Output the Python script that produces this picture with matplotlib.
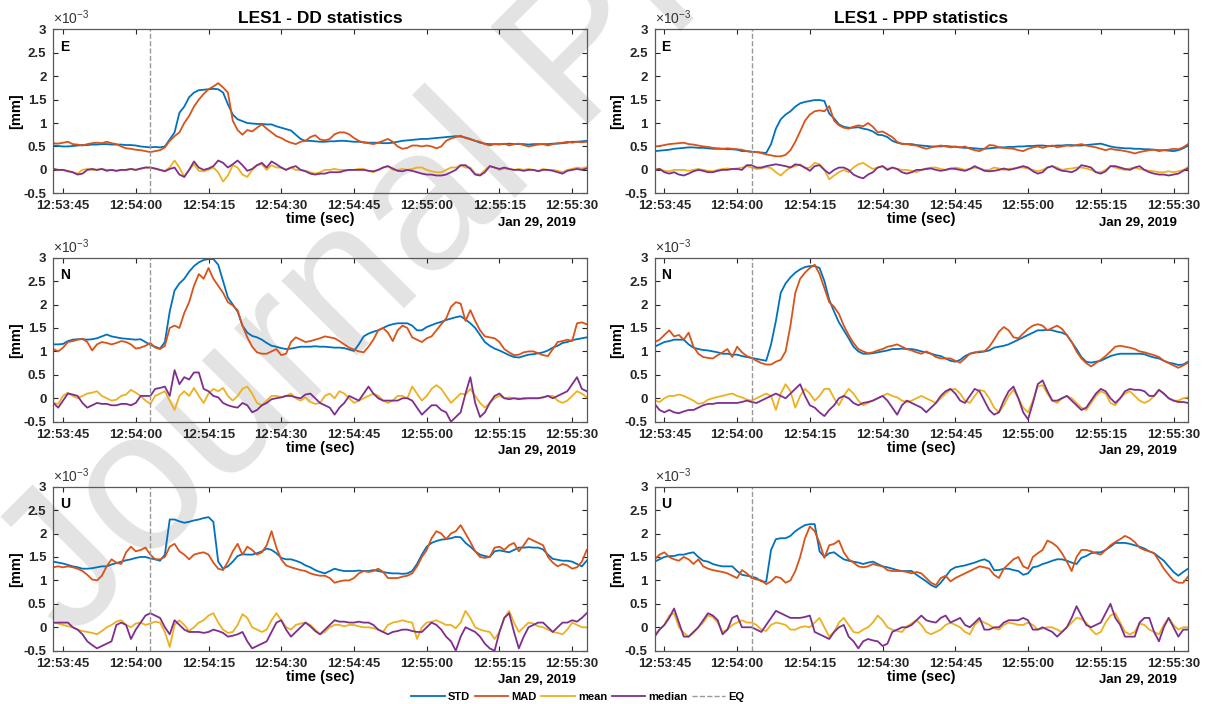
import datetime as dt
import numpy as np
import matplotlib
matplotlib.use("Agg")
import matplotlib.pyplot as plt
import matplotlib.dates as mdates

plt.rcParams['font.family'] = ['Liberation Sans', 'DejaVu Sans']
plt.rcParams['font.weight'] = 'bold'
plt.rcParams['axes.unicode_minus'] = False
plt.rcParams['mathtext.default'] = 'regular'

# one sample per second, 12:53:43 .. 12:55:33 (values in units of 1e-3 mm)
t_start = dt.datetime(2019, 1, 29, 12, 53, 43)
t_eq = dt.datetime(2019, 1, 29, 12, 54, 3)
n_sec = 111

# ---------------- DD, East ----------------
dd_e_std = [0.52, 0.51, 0.50, 0.50, 0.51, 0.52, 0.53, 0.53, 0.54, 0.54,
            0.55, 0.55, 0.54, 0.54, 0.54, 0.53, 0.53, 0.52, 0.50, 0.49,
            0.48, 0.49, 0.48, 0.50, 0.65, 0.80, 1.22, 1.35, 1.55, 1.65,
            1.70, 1.71, 1.72, 1.73, 1.72, 1.65, 1.40, 1.18, 1.08, 1.04,
            1.00, 0.99, 0.98, 0.98, 0.97, 0.97, 0.93, 0.90, 0.87, 0.84,
            0.75, 0.66, 0.62, 0.62, 0.61, 0.60, 0.60, 0.61, 0.61, 0.62,
            0.62, 0.61, 0.60, 0.60, 0.59, 0.58, 0.58, 0.58, 0.57, 0.57,
            0.58, 0.60, 0.62, 0.63, 0.64, 0.65, 0.66, 0.66, 0.67, 0.68,
            0.69, 0.70, 0.71, 0.72, 0.71, 0.69, 0.66, 0.62, 0.58, 0.56,
            0.55, 0.55, 0.55, 0.55, 0.56, 0.55, 0.55, 0.55, 0.54, 0.55,
            0.55, 0.55, 0.55, 0.56, 0.56, 0.57, 0.58, 0.60, 0.60, 0.61,
            0.62]
dd_e_mad = [0.57, 0.56, 0.58, 0.60, 0.55, 0.54, 0.52, 0.55, 0.57, 0.58,
            0.57, 0.60, 0.57, 0.55, 0.50, 0.46, 0.45, 0.43, 0.42, 0.40,
            0.38, 0.40, 0.42, 0.48, 0.62, 0.72, 0.80, 1.00, 1.15, 1.35,
            1.50, 1.62, 1.72, 1.78, 1.85, 1.76, 1.65, 1.05, 0.85, 0.75,
            0.85, 0.82, 0.90, 0.97, 0.88, 0.80, 0.72, 0.68, 0.62, 0.58,
            0.55, 0.60, 0.62, 0.70, 0.74, 0.65, 0.63, 0.66, 0.76, 0.80,
            0.80, 0.76, 0.68, 0.62, 0.58, 0.57, 0.55, 0.58, 0.62, 0.66,
            0.60, 0.50, 0.45, 0.47, 0.52, 0.52, 0.50, 0.52, 0.50, 0.46,
            0.50, 0.62, 0.67, 0.70, 0.73, 0.68, 0.65, 0.62, 0.60, 0.55,
            0.52, 0.55, 0.54, 0.56, 0.52, 0.55, 0.56, 0.53, 0.50, 0.52,
            0.54, 0.55, 0.52, 0.55, 0.57, 0.58, 0.60, 0.58, 0.60, 0.59,
            0.60]
dd_e_mean = [0.02, 0.00, 0.00, -0.02, -0.05, -0.08, 0.00, 0.02, 0.00, 0.00,
             0.02, 0.00, 0.00, -0.02, 0.00, 0.00, 0.02, 0.00, 0.02, 0.05,
             0.05, 0.02, 0.00, -0.02, 0.05, 0.20, 0.05, -0.15, 0.00, 0.12,
             -0.02, -0.03, 0.00, 0.05, -0.05, -0.25, -0.12, 0.10, 0.05, -0.10,
             -0.15, 0.00, 0.10, 0.12, 0.00, 0.10, 0.05, 0.05, 0.00, 0.05,
             0.00, 0.00, -0.02, -0.05, -0.08, -0.05, 0.00, 0.00, 0.02, 0.00,
             0.00, 0.00, 0.00, 0.02, 0.02, -0.02, -0.05, 0.00, 0.05, 0.08,
             0.00, 0.00, 0.02, 0.00, 0.02, 0.05, 0.05, 0.00, -0.03, -0.05,
             -0.05, 0.00, 0.05, 0.05, 0.10, 0.05, 0.05, -0.08, -0.10, 0.00,
             0.08, 0.05, 0.00, 0.03, 0.02, 0.00, 0.02, 0.00, 0.02, 0.00,
             -0.02, 0.02, 0.00, 0.00, -0.02, -0.05, 0.00, 0.02, 0.05, 0.03,
             0.06]
dd_e_med = [0.02, 0.00, 0.00, -0.03, -0.05, -0.10, -0.08, 0.00, 0.02, 0.00,
            0.02, -0.02, 0.00, -0.02, 0.00, 0.00, 0.02, 0.00, 0.03, 0.05,
            0.05, 0.03, 0.00, -0.03, 0.02, 0.05, -0.10, -0.15, 0.00, 0.18,
            0.05, 0.00, 0.03, 0.08, 0.20, 0.15, 0.05, 0.12, 0.20, 0.10,
            -0.02, 0.02, 0.10, 0.15, 0.05, 0.18, 0.12, 0.05, 0.00, 0.05,
            0.08, 0.00, -0.03, -0.08, -0.10, -0.08, -0.08, -0.05, -0.05, -0.05,
            -0.02, 0.00, 0.00, 0.00, 0.00, -0.02, -0.03, 0.00, 0.05, 0.08,
            0.03, -0.02, -0.03, 0.00, -0.02, -0.05, -0.08, -0.10, -0.10, -0.12,
            -0.12, -0.10, -0.05, 0.00, 0.10, 0.10, 0.02, -0.10, -0.12, -0.05,
            0.08, 0.05, 0.02, 0.05, 0.02, 0.00, 0.00, -0.02, 0.00, 0.00,
            -0.03, 0.00, 0.00, -0.02, -0.05, -0.08, -0.02, 0.00, 0.02, 0.00,
            0.03]

# ---------------- PPP, East ----------------
ppp_e_std = [0.40, 0.41, 0.42, 0.43, 0.45, 0.46, 0.47, 0.48, 0.48, 0.47,
             0.47, 0.46, 0.45, 0.45, 0.45, 0.44, 0.44, 0.43, 0.40, 0.40,
             0.39, 0.38, 0.37, 0.36, 0.55, 0.88, 1.08, 1.18, 1.25, 1.35,
             1.42, 1.45, 1.47, 1.49, 1.49, 1.47, 1.20, 1.10, 0.97, 0.92,
             0.90, 0.90, 0.91, 0.88, 0.86, 0.82, 0.75, 0.74, 0.70, 0.62,
             0.58, 0.56, 0.55, 0.55, 0.53, 0.52, 0.51, 0.50, 0.50, 0.50,
             0.51, 0.50, 0.49, 0.48, 0.47, 0.47, 0.46, 0.45, 0.45, 0.46,
             0.47, 0.48, 0.48, 0.49, 0.49, 0.50, 0.50, 0.51, 0.51, 0.52,
             0.52, 0.51, 0.51, 0.52, 0.52, 0.53, 0.53, 0.52, 0.52, 0.53,
             0.54, 0.55, 0.56, 0.53, 0.50, 0.48, 0.47, 0.46, 0.46, 0.45,
             0.45, 0.44, 0.44, 0.43, 0.42, 0.42, 0.41, 0.40, 0.42, 0.46,
             0.52]
ppp_e_mad = [0.50, 0.51, 0.53, 0.55, 0.56, 0.57, 0.58, 0.55, 0.54, 0.52,
             0.50, 0.49, 0.47, 0.46, 0.45, 0.46, 0.45, 0.44, 0.43, 0.40,
             0.38, 0.38, 0.36, 0.33, 0.31, 0.29, 0.29, 0.32, 0.42, 0.60,
             0.82, 1.05, 1.18, 1.25, 1.27, 1.25, 1.36, 1.05, 0.95, 0.90,
             0.88, 0.92, 0.95, 0.93, 1.00, 0.92, 0.80, 0.82, 0.76, 0.70,
             0.60, 0.55, 0.55, 0.53, 0.52, 0.48, 0.45, 0.48, 0.50, 0.52,
             0.50, 0.48, 0.50, 0.48, 0.50, 0.45, 0.42, 0.40, 0.45, 0.53,
             0.52, 0.48, 0.47, 0.46, 0.45, 0.42, 0.40, 0.45, 0.48, 0.50,
             0.47, 0.50, 0.52, 0.48, 0.50, 0.52, 0.51, 0.53, 0.55, 0.52,
             0.50, 0.48, 0.45, 0.42, 0.45, 0.43, 0.42, 0.40, 0.38, 0.35,
             0.38, 0.40, 0.42, 0.43, 0.40, 0.42, 0.43, 0.45, 0.44, 0.48,
             0.55]
ppp_e_mean = [0.00, 0.02, -0.02, -0.03, 0.00, 0.00, 0.00, -0.02, 0.00, 0.02,
              0.00, -0.02, -0.03, 0.00, 0.02, 0.03, 0.02, 0.03, 0.05, 0.08,
              0.05, 0.02, 0.03, 0.06, 0.04, -0.05, -0.12, -0.02, 0.05, 0.08,
              0.12, 0.03, 0.05, 0.15, 0.12, 0.00, -0.20, -0.12, -0.05, 0.00,
              -0.05, 0.05, 0.12, 0.15, 0.08, 0.02, 0.05, 0.08, 0.02, 0.05,
              0.02, 0.00, 0.00, -0.02, -0.05, 0.00, 0.03, 0.05, 0.05, 0.02,
              0.00, 0.02, 0.05, 0.03, 0.00, 0.02, 0.05, 0.03, 0.00, 0.00,
              0.05, 0.03, 0.00, 0.02, 0.03, 0.05, 0.05, 0.03, 0.00, -0.03,
              0.00, 0.05, 0.08, 0.05, 0.00, 0.02, 0.03, 0.05, 0.05, 0.03,
              0.00, -0.05, -0.05, 0.00, 0.08, 0.05, 0.02, 0.00, 0.03, 0.05,
              0.02, 0.00, -0.02, -0.03, -0.05, -0.05, -0.03, -0.05, -0.03, 0.00,
              0.06]
ppp_e_med = [0.00, 0.02, -0.05, -0.08, -0.05, -0.10, -0.12, -0.08, -0.03, 0.00,
             -0.02, -0.05, -0.05, -0.02, 0.00, 0.00, 0.02, 0.02, 0.00, 0.10,
             0.10, 0.05, 0.05, 0.08, 0.10, 0.12, 0.10, 0.08, 0.05, 0.12,
             0.10, 0.05, -0.02, 0.08, 0.10, 0.00, -0.08, 0.00, 0.05, 0.05,
             0.00, -0.10, -0.15, -0.18, -0.10, -0.05, 0.05, 0.08, 0.00, 0.05,
             0.02, -0.05, -0.08, -0.05, 0.00, 0.00, 0.02, 0.03, 0.00, -0.02,
             0.00, 0.03, 0.02, 0.00, -0.02, 0.02, 0.08, 0.03, -0.02, -0.03,
             -0.02, 0.00, 0.03, 0.00, 0.02, 0.05, 0.08, 0.05, -0.03, -0.08,
             -0.05, 0.05, 0.08, 0.02, -0.02, -0.03, -0.05, 0.00, 0.10, 0.08,
             0.05, -0.05, -0.08, -0.03, 0.08, 0.08, 0.05, 0.02, 0.00, 0.05,
             0.08, 0.00, -0.05, -0.08, -0.10, -0.10, -0.12, -0.10, -0.08, -0.02,
             0.03]

# ---------------- DD, North ----------------
dd_n_std = [1.15, 1.15, 1.16, 1.22, 1.25, 1.26, 1.26, 1.25, 1.26, 1.28,
            1.32, 1.36, 1.32, 1.30, 1.28, 1.27, 1.26, 1.25, 1.26, 1.20,
            1.14, 1.10, 1.06, 1.20, 1.85, 2.30, 2.45, 2.55, 2.70, 2.82,
            2.90, 2.95, 2.97, 2.97, 2.85, 2.50, 2.15, 2.00, 1.85, 1.55,
            1.40, 1.33, 1.30, 1.25, 1.18, 1.12, 1.10, 1.07, 1.05, 1.06,
            1.08, 1.10, 1.10, 1.10, 1.11, 1.10, 1.10, 1.09, 1.08, 1.08,
            1.07, 1.04, 1.01, 1.15, 1.32, 1.38, 1.42, 1.45, 1.50, 1.55,
            1.58, 1.60, 1.60, 1.60, 1.55, 1.45, 1.45, 1.52, 1.56, 1.60,
            1.63, 1.67, 1.70, 1.73, 1.75, 1.68, 1.60, 1.50, 1.35, 1.20,
            1.12, 1.06, 1.02, 0.97, 0.92, 0.88, 0.87, 0.90, 0.93, 0.94,
            0.96, 0.98, 1.02, 1.08, 1.12, 1.18, 1.20, 1.24, 1.26, 1.28,
            1.30]
dd_n_mad = [1.05, 1.00, 1.08, 1.20, 1.22, 1.25, 1.27, 1.20, 1.02, 1.15,
            1.20, 1.18, 1.15, 1.18, 1.22, 1.20, 1.15, 1.06, 1.08, 1.12,
            1.18, 1.08, 1.05, 1.12, 1.50, 1.55, 1.50, 1.82, 2.05, 2.40,
            2.65, 2.55, 2.78, 2.55, 2.40, 2.25, 2.05, 1.98, 1.88, 1.55,
            1.30, 1.10, 0.98, 0.95, 0.95, 1.00, 1.05, 0.92, 0.95, 1.20,
            1.30, 1.25, 1.20, 1.22, 1.25, 1.28, 1.32, 1.30, 1.28, 1.22,
            1.15, 1.08, 1.04, 1.00, 0.98, 1.10, 1.25, 1.45, 1.50, 1.40,
            1.22, 1.45, 1.55, 1.50, 1.30, 1.25, 1.20, 1.28, 1.32, 1.45,
            1.58, 1.70, 1.95, 2.05, 2.02, 1.65, 1.88, 1.65, 1.45, 1.32,
            1.30, 1.28, 1.20, 1.05, 0.98, 0.92, 0.93, 0.98, 1.00, 1.00,
            0.96, 0.92, 0.90, 1.05, 1.20, 1.22, 1.25, 1.22, 1.60, 1.62,
            1.58]
dd_n_mean = [-0.10, -0.12, 0.05, 0.12, 0.05, 0.00, 0.05, 0.10, 0.12, 0.15,
             0.05, 0.00, -0.05, -0.03, 0.05, 0.08, 0.18, 0.12, 0.05, -0.05,
             -0.12, 0.05, 0.10, 0.15, -0.05, -0.25, 0.05, 0.15, 0.05, 0.22,
             0.05, -0.10, 0.10, 0.20, 0.15, 0.22, 0.05, -0.05, 0.05, 0.20,
             0.25, 0.10, -0.10, -0.15, -0.05, 0.05, 0.05, 0.02, 0.05, 0.10,
             0.00, -0.05, 0.02, -0.08, -0.12, -0.10, 0.05, 0.10, 0.00, 0.15,
             0.10, 0.00, -0.10, -0.05, 0.00, 0.05, 0.10, 0.05, -0.05, -0.10,
             -0.05, 0.05, 0.05, 0.00, 0.25, 0.10, -0.05, 0.05, 0.20, 0.28,
             0.20, 0.05, -0.10, 0.00, 0.10, 0.08, 0.20, 0.05, -0.10, -0.20,
             -0.10, 0.00, 0.05, 0.00, 0.02, 0.00, 0.00, -0.02, 0.00, 0.00,
             0.00, 0.02, 0.05, 0.05, -0.05, -0.10, -0.05, 0.05, 0.15, 0.10,
             0.02]
dd_n_med = [-0.10, -0.20, -0.05, 0.10, 0.08, 0.05, -0.10, -0.20, -0.15, -0.10,
            -0.12, -0.12, -0.15, -0.15, -0.12, -0.12, -0.15, -0.10, 0.05, 0.05,
            0.05, 0.20, 0.22, 0.25, 0.05, 0.60, 0.30, 0.45, 0.40, 0.55,
            0.55, 0.20, 0.15, 0.05, 0.02, -0.10, -0.15, -0.18, -0.20, -0.10,
            -0.15, -0.30, -0.25, -0.15, -0.10, -0.02, 0.00, 0.02, 0.05, 0.05,
            0.02, 0.00, 0.08, 0.10, 0.00, -0.10, -0.15, -0.20, -0.35, -0.20,
            -0.10, 0.05, 0.00, -0.05, 0.10, 0.25, 0.10, 0.00, -0.05, -0.05,
            -0.05, -0.05, 0.00, 0.00, -0.05, -0.20, -0.35, -0.25, -0.15, -0.15,
            -0.25, -0.30, -0.50, -0.40, -0.30, 0.10, 0.45, -0.10, -0.40, -0.30,
            -0.10, 0.05, 0.10, 0.00, -0.02, 0.00, -0.02, 0.00, 0.00, 0.00,
            0.00, 0.02, 0.05, 0.00, 0.05, 0.10, 0.15, 0.30, 0.45, 0.20,
            0.15]

# ---------------- PPP, North ----------------
ppp_n_std = [1.10, 1.15, 1.20, 1.22, 1.25, 1.25, 1.25, 1.15, 1.08, 1.05,
             1.03, 1.02, 1.00, 0.98, 0.95, 0.95, 0.93, 0.93, 0.90, 0.88,
             0.86, 0.84, 0.82, 0.80, 1.15, 1.65, 2.25, 2.45, 2.58, 2.68,
             2.75, 2.80, 2.82, 2.82, 2.78, 2.50, 2.10, 1.85, 1.62, 1.45,
             1.28, 1.10, 1.00, 0.95, 0.95, 0.96, 0.98, 1.00, 1.02, 1.05,
             1.05, 1.06, 1.05, 1.05, 1.03, 1.00, 0.98, 0.95, 0.92, 0.90,
             0.85, 0.80, 0.78, 0.82, 0.90, 0.95, 0.98, 0.98, 1.00, 1.02,
             1.08, 1.10, 1.12, 1.15, 1.20, 1.25, 1.30, 1.35, 1.40, 1.45,
             1.45, 1.46, 1.45, 1.42, 1.40, 1.35, 1.20, 1.05, 0.88, 0.78,
             0.76, 0.78, 0.80, 0.85, 0.90, 0.93, 0.95, 0.95, 0.95, 0.95,
             0.95, 0.94, 0.90, 0.87, 0.85, 0.80, 0.76, 0.74, 0.71, 0.72,
             0.78]
ppp_n_mad = [1.20, 1.25, 1.35, 1.45, 1.32, 1.35, 1.25, 1.40, 1.10, 0.95,
             0.88, 0.86, 0.85, 0.92, 0.98, 1.05, 0.88, 1.10, 0.98, 0.90,
             0.86, 0.80, 0.75, 0.72, 0.72, 0.78, 0.82, 1.00, 1.55, 2.25,
             2.55, 2.68, 2.78, 2.85, 2.65, 2.35, 2.05, 1.95, 1.80, 1.55,
             1.35, 1.18, 1.05, 1.00, 0.96, 0.98, 1.02, 1.05, 1.10, 1.12,
             1.15, 1.10, 1.05, 1.02, 0.98, 0.95, 1.00, 0.95, 0.88, 0.85,
             0.85, 0.85, 0.80, 0.76, 0.85, 0.95, 0.97, 1.00, 1.00, 1.10,
             1.25, 1.42, 1.52, 1.45, 1.30, 1.28, 1.38, 1.48, 1.55, 1.58,
             1.55, 1.45, 1.50, 1.55, 1.48, 1.35, 1.20, 1.00, 0.85, 0.75,
             0.68, 0.75, 0.82, 0.90, 1.00, 1.10, 1.12, 1.10, 1.08, 1.05,
             1.00, 0.98, 0.95, 0.92, 0.88, 0.80, 0.75, 0.70, 0.65, 0.70,
             0.76]
ppp_n_mean = [-0.05, -0.08, 0.00, 0.05, 0.05, 0.08, 0.05, 0.00, -0.05, -0.12,
              -0.10, -0.03, 0.00, 0.03, 0.05, 0.08, 0.10, 0.05, 0.02, -0.03,
              -0.05, 0.00, 0.05, 0.10, 0.05, -0.25, 0.10, 0.30, 0.15, -0.20,
              0.05, 0.20, 0.10, -0.05, 0.05, 0.20, 0.20, 0.00, -0.15, 0.05,
              0.20, 0.10, -0.05, -0.15, -0.10, -0.05, 0.00, 0.05, 0.10, 0.05,
              0.02, -0.05, -0.08, -0.05, 0.00, 0.05, 0.00, -0.05, -0.10, 0.00,
              0.10, 0.18, 0.20, 0.10, -0.05, -0.10, 0.05, 0.18, 0.15, 0.00,
              -0.20, -0.30, -0.15, 0.05, 0.18, 0.00, -0.20, -0.30, -0.05, 0.25,
              0.28, 0.10, -0.05, -0.10, 0.00, 0.05, 0.00, -0.10, -0.20, -0.25,
              -0.10, 0.05, 0.15, 0.10, -0.10, -0.15, 0.00, 0.10, 0.15, 0.05,
              -0.05, -0.10, -0.05, 0.05, 0.18, 0.10, 0.00, -0.05, -0.05, 0.00,
              0.02]
ppp_n_med = [-0.12, -0.25, -0.30, -0.25, -0.30, -0.32, -0.28, -0.25, -0.25, -0.20,
             -0.15, -0.12, -0.12, -0.10, -0.10, -0.10, -0.10, -0.10, -0.08, -0.05,
             -0.08, -0.10, -0.05, 0.00, 0.05, 0.10, 0.05, 0.00, 0.10, 0.20,
             0.30, 0.05, -0.15, -0.20, -0.30, -0.38, -0.25, -0.15, 0.00, 0.05,
             0.00, -0.10, -0.15, -0.10, -0.08, -0.05, 0.00, 0.05, -0.05, -0.20,
             -0.35, -0.15, -0.05, -0.10, -0.15, -0.20, -0.30, -0.20, -0.10, 0.05,
             0.15, 0.20, 0.10, -0.05, -0.10, 0.05, 0.20, 0.15, -0.05, -0.25,
             -0.35, -0.30, -0.05, 0.15, 0.25, 0.00, -0.30, -0.45, -0.10, 0.30,
             0.38, 0.15, -0.05, -0.05, 0.00, 0.05, -0.05, -0.15, -0.25, -0.20,
             -0.05, 0.10, 0.20, 0.15, 0.00, -0.10, 0.00, 0.15, 0.20, 0.18,
             0.18, 0.15, 0.05, 0.05, 0.18, 0.10, 0.00, -0.05, -0.08, -0.08,
             -0.10]

# ---------------- DD, Up ----------------
dd_u_std = [1.40, 1.38, 1.36, 1.33, 1.30, 1.28, 1.25, 1.25, 1.26, 1.28,
            1.30, 1.30, 1.34, 1.37, 1.40, 1.43, 1.45, 1.48, 1.50, 1.50,
            1.47, 1.45, 1.42, 1.55, 2.30, 2.30, 2.26, 2.23, 2.25, 2.28,
            2.30, 2.33, 2.35, 2.25, 1.40, 1.25, 1.30, 1.40, 1.52, 1.56,
            1.55, 1.55, 1.58, 1.62, 1.68, 1.65, 1.58, 1.48, 1.45, 1.45,
            1.42, 1.38, 1.32, 1.28, 1.22, 1.18, 1.15, 1.20, 1.25, 1.22,
            1.20, 1.20, 1.20, 1.21, 1.20, 1.20, 1.22, 1.20, 1.18, 1.16,
            1.15, 1.15, 1.14, 1.15, 1.20, 1.35, 1.55, 1.72, 1.80, 1.84,
            1.87, 1.88, 1.90, 1.93, 1.92, 1.80, 1.72, 1.62, 1.55, 1.52,
            1.50, 1.62, 1.64, 1.62, 1.60, 1.65, 1.70, 1.70, 1.71, 1.70,
            1.70, 1.66, 1.55, 1.46, 1.44, 1.42, 1.42, 1.40, 1.35, 1.30,
            1.42]
dd_u_mad = [1.28, 1.30, 1.28, 1.30, 1.28, 1.25, 1.20, 1.12, 1.02, 1.00,
            1.10, 1.30, 1.45, 1.38, 1.35, 1.60, 1.72, 1.62, 1.65, 1.70,
            1.55, 1.45, 1.45, 1.50, 1.72, 1.78, 1.62, 1.55, 1.45, 1.55,
            1.58, 1.60, 1.55, 1.38, 1.25, 1.22, 1.40, 1.62, 1.78, 1.55,
            1.72, 1.65, 1.55, 1.60, 1.75, 2.05, 1.70, 1.45, 1.32, 1.28,
            1.25, 1.22, 1.20, 1.15, 1.12, 1.10, 1.10, 1.05, 0.95, 0.98,
            1.00, 1.00, 1.05, 1.15, 1.20, 1.18, 1.20, 1.25, 1.18, 1.05,
            1.05, 1.05, 1.08, 1.10, 1.15, 1.30, 1.50, 1.65, 1.90, 2.05,
            2.00, 1.88, 2.00, 2.05, 2.18, 2.00, 1.82, 1.62, 1.50, 1.48,
            1.50, 1.70, 1.72, 1.65, 1.75, 1.80, 1.62, 1.75, 1.90, 1.85,
            1.80, 1.75, 1.50, 1.38, 1.30, 1.35, 1.32, 1.25, 1.28, 1.40,
            1.65]
dd_u_mean = [0.10, 0.08, 0.05, 0.02, 0.00, -0.05, -0.08, -0.10, -0.12, -0.15,
             -0.08, 0.00, 0.05, 0.12, 0.15, 0.05, 0.00, 0.08, 0.10, 0.05,
             0.08, 0.12, 0.10, -0.10, -0.42, 0.05, 0.15, 0.05, -0.08, 0.00,
             0.10, 0.15, 0.25, 0.30, 0.10, -0.05, -0.12, -0.10, 0.05, 0.28,
             0.20, 0.00, -0.05, -0.10, -0.05, 0.15, 0.30, 0.15, 0.00, -0.05,
             0.05, 0.08, 0.10, 0.05, -0.05, -0.15, -0.10, 0.00, 0.05, 0.05,
             0.02, 0.05, 0.05, 0.02, 0.00, 0.00, -0.02, -0.05, -0.10, 0.05,
             0.10, 0.12, 0.15, 0.12, 0.10, -0.25, 0.00, 0.10, 0.12, 0.15,
             0.10, 0.05, 0.05, -0.02, 0.10, 0.35, 0.20, 0.00, -0.05, -0.08,
             -0.10, -0.25, -0.10, 0.20, 0.35, 0.10, -0.10, 0.00, 0.10, 0.08,
             0.02, 0.00, -0.05, -0.10, -0.12, -0.15, -0.05, 0.10, 0.05, 0.00,
             0.00]
dd_u_med = [0.10, 0.10, 0.10, 0.10, 0.00, -0.05, -0.15, -0.30, -0.38, -0.45,
            -0.40, -0.35, -0.30, 0.05, 0.10, 0.05, -0.25, -0.05, 0.10, 0.25,
            0.30, 0.25, 0.20, 0.00, -0.15, 0.15, 0.05, -0.05, -0.10, -0.10,
            -0.10, -0.12, -0.10, -0.05, -0.08, -0.12, -0.20, -0.18, -0.15, -0.10,
            -0.30, -0.45, -0.40, -0.35, -0.30, -0.10, 0.10, 0.15, -0.05, -0.20,
            -0.10, 0.00, 0.10, 0.02, -0.08, -0.15, -0.05, 0.05, 0.15, 0.12,
            0.12, 0.10, 0.10, 0.12, 0.10, 0.10, 0.05, -0.05, -0.10, -0.15,
            -0.10, -0.08, -0.05, -0.05, -0.08, -0.10, -0.10, 0.00, 0.10, 0.05,
            -0.05, -0.20, -0.30, -0.50, -0.20, 0.00, -0.05, -0.10, -0.20, -0.35,
            -0.45, -0.50, -0.10, 0.20, 0.30, -0.10, -0.45, -0.20, 0.00, 0.05,
            0.10, 0.10, 0.00, -0.10, 0.00, 0.10, 0.10, 0.15, 0.12, 0.20,
            0.30]

# ---------------- PPP, Up ----------------
ppp_u_std = [1.40, 1.45, 1.50, 1.52, 1.52, 1.55, 1.55, 1.58, 1.60, 1.50,
             1.42, 1.40, 1.35, 1.32, 1.30, 1.30, 1.30, 1.20, 1.12, 1.10,
             1.08, 1.05, 0.98, 0.97, 1.65, 1.88, 1.90, 1.90, 1.95, 2.05,
             2.12, 2.18, 2.20, 2.20, 1.62, 1.50, 1.58, 1.60, 1.52, 1.45,
             1.42, 1.40, 1.38, 1.35, 1.38, 1.40, 1.35, 1.30, 1.28, 1.25,
             1.22, 1.20, 1.20, 1.20, 1.12, 1.05, 0.98, 0.90, 0.85, 0.95,
             1.08, 1.22, 1.28, 1.30, 1.32, 1.35, 1.38, 1.42, 1.45, 1.40,
             1.22, 1.22, 1.25, 1.25, 1.22, 1.20, 1.12, 1.15, 1.28, 1.30,
             1.35, 1.38, 1.42, 1.45, 1.45, 1.42, 1.38, 1.35, 1.48, 1.52,
             1.58, 1.60, 1.60, 1.65, 1.72, 1.80, 1.80, 1.80, 1.78, 1.75,
             1.72, 1.68, 1.62, 1.58, 1.50, 1.42, 1.30, 1.18, 1.10, 1.18,
             1.25]
ppp_u_mad = [1.45, 1.55, 1.60, 1.50, 1.45, 1.42, 1.50, 1.45, 1.35, 1.45,
             1.30, 1.25, 1.22, 1.20, 1.18, 1.15, 1.10, 1.05, 1.22, 1.15,
             1.05, 1.02, 1.00, 0.92, 0.98, 1.08, 1.05, 0.95, 1.00, 1.20,
             1.50, 1.90, 2.15, 2.05, 1.80, 1.48, 1.75, 1.78, 1.85, 1.60,
             1.45, 1.38, 1.30, 1.28, 1.30, 1.35, 1.32, 1.30, 1.22, 1.20,
             1.20, 1.20, 1.18, 1.15, 1.18, 1.15, 1.05, 0.95, 0.90, 1.05,
             1.10, 0.98, 1.05, 1.10, 1.15, 1.20, 1.25, 1.30, 1.28, 1.25,
             1.12, 1.05, 1.25, 1.35, 1.45, 1.50, 1.30, 1.25, 1.50, 1.58,
             1.65, 1.85, 1.80, 1.72, 1.58, 1.40, 1.20, 1.50, 1.65, 1.65,
             1.62, 1.58, 1.55, 1.65, 1.75, 1.82, 1.88, 1.95, 1.90, 1.82,
             1.70, 1.65, 1.62, 1.58, 1.42, 1.25, 1.12, 1.00, 0.95, 0.95,
             1.08]
ppp_u_mean = [-0.15, -0.05, 0.05, 0.25, 0.30, 0.00, -0.12, -0.20, -0.12, 0.00,
              0.10, 0.25, 0.22, 0.10, -0.10, -0.05, 0.05, 0.10, 0.15, 0.10,
              0.10, 0.05, -0.05, -0.08, 0.05, 0.10, 0.08, 0.05, -0.05, -0.05,
              0.00, 0.02, 0.00, 0.10, 0.20, 0.00, -0.20, -0.10, 0.10, 0.20,
              0.05, -0.10, -0.12, -0.05, 0.00, 0.10, 0.25, 0.15, 0.00, -0.05,
              -0.08, -0.10, 0.02, 0.08, 0.15, 0.05, -0.10, -0.15, -0.10, -0.05,
              0.05, 0.10, 0.05, 0.00, -0.10, -0.15, 0.05, 0.15, 0.10, 0.05,
              -0.02, -0.05, 0.05, 0.10, 0.08, 0.05, 0.05, 0.10, 0.05, -0.05,
              -0.03, 0.00, 0.00, -0.05, -0.10, 0.00, 0.10, 0.20, 0.18, 0.10,
              -0.05, -0.15, -0.10, 0.10, 0.25, 0.30, 0.10, -0.10, -0.15, -0.10,
              0.08, 0.05, -0.05, -0.10, -0.15, 0.05, 0.20, 0.05, -0.05, 0.00,
              0.00]
ppp_u_med = [-0.20, -0.05, 0.05, 0.20, 0.40, 0.10, -0.20, -0.20, -0.10, 0.00,
             0.15, 0.30, 0.25, 0.15, -0.15, -0.05, 0.20, 0.25, 0.00, 0.00,
             0.00, -0.05, -0.10, 0.05, 0.20, 0.35, 0.30, 0.25, 0.20, 0.20,
             0.20, 0.22, 0.25, -0.10, -0.15, -0.20, -0.25, -0.10, 0.00, 0.05,
             -0.20, -0.30, -0.45, -0.30, -0.25, -0.28, -0.30, -0.40, -0.35, -0.10,
             -0.05, 0.00, 0.00, 0.05, 0.15, 0.25, 0.15, 0.12, 0.10, 0.20,
             0.25, 0.10, 0.15, 0.20, 0.05, 0.00, 0.10, 0.20, -0.05, -0.05,
             0.00, 0.00, 0.10, 0.15, 0.15, 0.15, 0.20, 0.15, -0.05, -0.05,
             0.00, -0.05, -0.10, -0.20, -0.10, 0.00, 0.20, 0.45, 0.25, 0.05,
             0.00, 0.05, 0.10, 0.30, 0.50, 0.20, 0.05, -0.20, -0.20, -0.20,
             0.10, 0.20, 0.20, -0.10, -0.30, 0.00, 0.20, 0.00, -0.20, -0.05,
             -0.05]

times = [t_start + dt.timedelta(seconds=s) for s in range(n_sec)]

panels = [
    # row, col, component, std, mad, mean, median
    (0, 0, 'E', dd_e_std, dd_e_mad, dd_e_mean, dd_e_med),
    (0, 1, 'E', ppp_e_std, ppp_e_mad, ppp_e_mean, ppp_e_med),
    (1, 0, 'N', dd_n_std, dd_n_mad, dd_n_mean, dd_n_med),
    (1, 1, 'N', ppp_n_std, ppp_n_mad, ppp_n_mean, ppp_n_med),
    (2, 0, 'U', dd_u_std, dd_u_mad, dd_u_mean, dd_u_med),
    (2, 1, 'U', ppp_u_std, ppp_u_mad, ppp_u_mean, ppp_u_med),
]
titles = ['LES1 - DD statistics', 'LES1 - PPP statistics']
yticks = [-0.5, 0, 0.5, 1, 1.5, 2, 2.5, 3]

c_std, c_mad, c_mean, c_med = '#0072BD', '#D95319', '#EDB120', '#7E2F8E'

fig = plt.figure(figsize=(12.07, 7.04), dpi=100)
col_x = [0.0442, 0.5424]
col_w = 0.4419
row_y = [0.7254, 0.4010, 0.0757]
row_h = 0.2330

handles = None
for row, col, comp, s_std, s_mad, s_mean, s_med in panels:
    ax = fig.add_axes([col_x[col], row_y[row], col_w, row_h])
    ax.set_facecolor('none')
    l1, = ax.plot(times, s_std, color=c_std, lw=1.3, label='STD')
    l2, = ax.plot(times, s_mad, color=c_mad, lw=1.3, label='MAD')
    l3, = ax.plot(times, s_mean, color=c_mean, lw=1.3, label='mean')
    l4, = ax.plot(times, s_med, color=c_med, lw=1.3, label='median')
    l5 = ax.axvline(t_eq, color='0.6', ls='--', lw=1.0, label='EQ')
    if handles is None:
        handles = [l1, l2, l3, l4, l5]

    ax.set_xlim(times[0], times[-1])
    ax.set_ylim(-0.5, 3)
    ax.set_yticks(yticks)
    ax.set_yticklabels([f'{v:g}' for v in yticks])
    ax.xaxis.set_major_locator(mdates.SecondLocator(bysecond=[0, 15, 30, 45]))
    ax.xaxis.set_major_formatter(mdates.DateFormatter('%H:%M:%S'))
    ax.tick_params(direction='in', top=True, right=True, length=3.6,
                   width=0.8, labelsize=9.5, pad=5, colors='0.15')
    for sp in ax.spines.values():
        sp.set_color('0.35')
        sp.set_linewidth(0.9)

    ax.set_xlabel('time (sec)', fontsize=10.5, fontweight='bold', labelpad=0)
    ax.set_ylabel('[mm]', fontsize=10.5, fontweight='bold', labelpad=0.5)
    ax.annotate('Jan 29, 2019', xy=(0.906, 0), xycoords='axes fraction',
                xytext=(0, -21.2), textcoords='offset points',
                ha='center', va='center', fontsize=9.5, fontweight='bold')
    ax.text(0.0, 1.012, '×10$^{-3}$', transform=ax.transAxes, fontsize=10,
            fontweight='normal', ha='left', va='bottom', color='0.2')
    ax.text(0.0126, 0.894, comp, transform=ax.transAxes, fontsize=10,
            fontweight='bold', ha='left', va='center')
    if row == 0:
        ax.set_title(titles[col], fontsize=12.5, fontweight='bold', pad=4.5)

fig.legend(handles, [h.get_label() for h in handles], loc='center',
           bbox_to_anchor=(0.479, 0.01), ncol=5, frameon=False,
           handlelength=3.0, handletextpad=0.3, columnspacing=0.4,
           prop={'size': 8, 'weight': 'bold'})

# "Journal Pre-proof" watermark, behind the axes
fig.text(0.058, 0.087, 'Journal Pre-proof', rotation=45, rotation_mode='anchor',
         ha='left', va='baseline', fontsize=145, fontweight='normal',
         color='#e3e3e3', zorder=-1)

fig.savefig('out.png', dpi=100)
